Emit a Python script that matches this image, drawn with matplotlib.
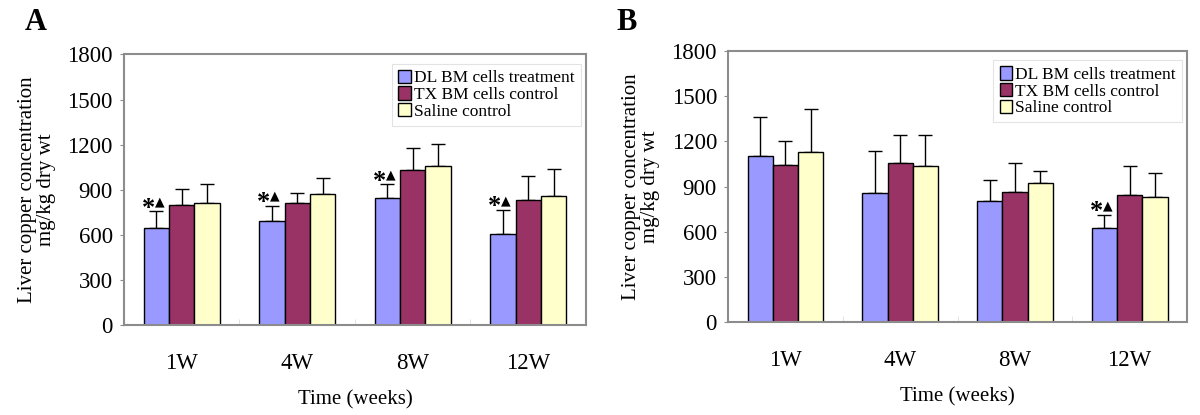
import numpy as np
import matplotlib
matplotlib.use("Agg")
import matplotlib.pyplot as plt
from matplotlib.patches import Patch

plt.rcParams['font.family'] = ['Liberation Serif', 'DejaVu Serif']

# Data
WEEKS = ["1W", "4W", "8W", "12W"]
SERIES = ["DL BM cells treatment", "TX BM cells control", "Saline control"]
COLORS = ["#9999FF", "#993366", "#FFFFCC"]

A_MEANS = [[645, 692, 843, 605],
           [795, 814, 1029, 831],
           [814, 869, 1057, 860]]
A_ERRS = [[112, 102, 93, 162],
          [110, 64, 150, 162],
          [122, 111, 149, 177]]
A_MARKED = [0, 1, 2, 3]

B_MEANS = [[1100, 856, 807, 627],
           [1042, 1053, 864, 844],
           [1127, 1033, 922, 827]]
B_ERRS = [[262, 280, 133, 84],
          [158, 187, 189, 192],
          [291, 207, 82, 162]]
B_MARKED = [3]

YTICKS = [0, 300, 600, 900, 1200, 1500, 1800]
GRAY = "#8c8c8c"


def draw_panel(ax, means, errs, marked):
    x = np.arange(len(WEEKS))
    w = 0.22
    for i, (m, e) in enumerate(zip(means, errs)):
        pos = x + (i - 1) * w
        ax.bar(pos, m, width=w, color=COLORS[i], edgecolor="black",
               linewidth=1.0, zorder=2)
        ax.errorbar(pos, m, yerr=[np.zeros(len(e)), e], fmt="none",
                    ecolor="black", elinewidth=1.0, capsize=5, capthick=1.0,
                    zorder=1)
    # significance marks above the treatment bars
    for j in marked:
        top = means[0][j] + errs[0][j]
        ax.annotate("*", (x[j] - w, top), xytext=(-1, -6),
                    textcoords="offset points", ha="right", va="bottom",
                    fontsize=19, fontweight="bold")
        ax.annotate("\u25B2", (x[j] - w, top), xytext=(-1, 2),
                    textcoords="offset points", ha="left", va="bottom",
                    fontsize=9, family=['DejaVu Sans'])

    ax.set_xlim(-0.5, len(WEEKS) - 0.5)
    ax.set_ylim(0, 1800)
    ax.set_yticks(YTICKS)
    ax.tick_params(axis="y", labelsize=16.5, color=GRAY, length=3, pad=5)
    ax.set_xticks(x)
    ax.set_xticklabels(WEEKS, fontsize=16.5)
    ax.tick_params(axis="x", length=0, pad=20)
    ax.set_xticks(np.arange(0.5, len(WEEKS) - 0.5), minor=True)
    ax.tick_params(axis="x", which="minor", direction="in", length=4,
                   color="#dddddd")
    for s in ax.spines.values():
        s.set_color(GRAY)
        s.set_linewidth(1.5)

    ax.set_xlabel("Time (weeks)", fontsize=15, labelpad=12)
    ax.set_ylabel("Liver copper concentration\nmg/kg dry wt", fontsize=15,
                  labelpad=8, linespacing=1.05)

    handles = [Patch(facecolor=c, edgecolor="black") for c in COLORS]
    leg = ax.legend(handles, SERIES, loc="upper right", fontsize=12.5,
                    frameon=True, fancybox=False, handlelength=0.7,
                    handleheight=0.8, handletextpad=0.2, labelspacing=0.0,
                    borderpad=0.35, borderaxespad=0.3,
                    bbox_to_anchor=(1.0, 0.985))
    leg.get_frame().set_edgecolor("#dddddd")
    leg.get_frame().set_linewidth(0.8)


fig = plt.figure(figsize=(12, 4.15), dpi=100)
ax_a = fig.add_axes([0.1033, 0.2169, 0.385, 0.652])
ax_b = fig.add_axes([0.6067, 0.2241, 0.3825, 0.653])

draw_panel(ax_a, A_MEANS, A_ERRS, A_MARKED)
draw_panel(ax_b, B_MEANS, B_ERRS, B_MARKED)

fig.text(0.030, 0.945, "A", fontsize=22, fontweight="bold", ha="center",
         va="center")
fig.text(0.522, 0.945, "B", fontsize=22, fontweight="bold", ha="center",
         va="center")

fig.savefig("out.png", dpi=100)
